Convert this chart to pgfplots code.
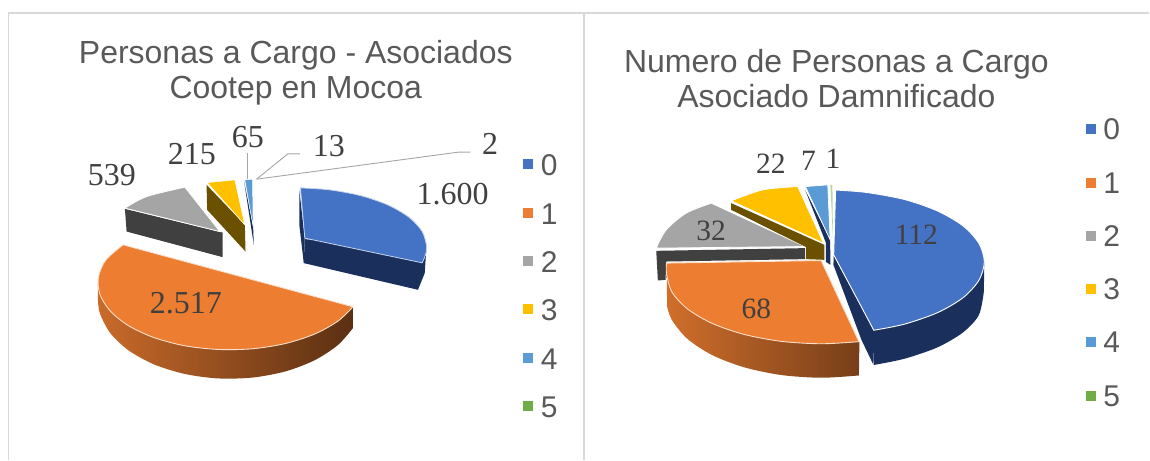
\documentclass[border=0pt]{standalone}
\usepackage{pgfplots}
\pgfplotsset{compat=1.18}
\usepackage{fontspec}
\setmainfont{Liberation Sans}
\newfontfamily\lab{Liberation Serif}
\definecolor{cBlue}{HTML}{4472C4}
\definecolor{cOrange}{HTML}{ED7D31}
\definecolor{cGray}{HTML}{A5A5A5}
\definecolor{cYellow}{HTML}{FFC000}
\definecolor{cSky}{HTML}{5B9BD5}
\definecolor{cGreen}{HTML}{70AD47}
\definecolor{sBlue}{HTML}{1A2F5B}
\definecolor{sGray}{HTML}{404040}
\definecolor{sYellow}{HTML}{6B5000}
\definecolor{tGray}{HTML}{595959}
\definecolor{dGray}{HTML}{404040}
\definecolor{bGray}{HTML}{D9D9D9}
\definecolor{lGray}{HTML}{A6A6A6}
\newcommand{\lbl}[3]{\node[anchor=base,text=dGray,font=\lab\fontsize{#3}{#3}\selectfont,inner sep=0pt] at (axis cs:#1) {#2};}
\newcommand{\leg}[2]{\node[anchor=base west,text=tGray,font=\fontsize{30}{30}\selectfont,inner sep=0pt] at (axis cs:#1) {#2};}
\begin{document}
\begin{tikzpicture}
\begin{axis}[width=1150pt,height=460pt,scale only axis,xmin=0,xmax=1150,ymin=0,ymax=460,y dir=reverse,hide axis,clip=false]
% page extent
\addplot[draw=none] coordinates {(0,0) (1150,460)};
% frame
\addplot[bGray,line width=1.6pt] coordinates {(8.5,460) (8.5,13) (1150,13)};
\addplot[bGray,line width=1.6pt] coordinates {(584.5,13) (584.5,460)};
% ---- left pie: wedges
% 2 gray
\addplot[fill=sGray,draw=none] coordinates {(125,209) (126.7,231.7) (222.7,257.3) (222.7,232.7)} -- cycle;
\addplot[smooth,fill=cGray,draw=white,line width=.8pt] coordinates {(125,208.3) (146.7,196.7) (185,187.3)} -- (axis cs:220,231.7) -- cycle;
% 3 yellow
\addplot[fill=sYellow,draw=none] coordinates {(206.7,185) (245,225) (245.7,251.7) (207.3,210)} -- cycle;
\addplot[fill=cYellow,draw=white,line width=.6pt] coordinates {(207.3,182.7) (235,180) (245,225)} -- cycle;
% 4 sky
\addplot[fill=sBlue,draw=none] coordinates {(244.3,181.7) (253.3,226.7) (254,245)} -- cycle;
\addplot[fill=cSky,draw=white,line width=.5pt] coordinates {(245,180) (252.7,179.3) (253.3,226.7)} -- cycle;
% 0 blue
\addplot[fill=sBlue,draw=none] coordinates {(299.5,190) (305,238) (304,263.3) (299.5,225)} -- cycle;
\addplot[fill=sBlue,draw=none] coordinates {(305,239.3) (304,263.3) (418.3,290) (425,273.3) (426.7,248)} -- cycle;
\addplot[smooth,fill=cBlue,draw=white!70!cBlue,line width=.8pt] coordinates {(300.6,188) (329.9,190) (361.5,195.9) (388.6,205.3) (409.4,217.5) (422.5,231.7) (427,247) (425.7,255.2) (422.5,263)} -- (axis cs:305,238.3) -- cycle;
% 1 orange
\addplot[smooth,left color=cOrange!85!black,middle color=cOrange!60!black,right color=cOrange!38!black,draw=none] coordinates {(353.2,328.3) (338.1,345.3) (314.8,360.5) (285.8,371.6) (252.9,377.8) (218.5,378.7) (184.9,374.2) (154.3,364.7) (128.9,350.8) (110.4,333.4) (100,313.7) (98,300)} -- (axis cs:98,283) -- (axis cs:353,307) -- cycle;
\addplot[smooth,fill=cOrange,draw=white!75!cOrange,line width=.9pt] coordinates {(353.2,307) (338.1,321.4) (314.8,334.3) (285.8,343.7) (252.9,349) (218.5,349.7) (184.9,346) (154.3,337.9) (128.9,326.1) (110.4,311.3) (100,294.6) (98.5,277.2) (106,260.1) (123.2,245)} -- cycle;
% leader lines
\addplot[lGray,line width=.9pt] coordinates {(248,153) (248,179)};
\addplot[lGray,line width=.9pt] coordinates {(256.7,179.3) (288,154) (300,154)};
\addplot[lGray,line width=.9pt] coordinates {(256.7,179.3) (458.3,152.3) (470.7,152.3)};
% labels
\lbl{112,185.5}{539}{32}
\lbl{192,164.5}{215}{32}
\lbl{248,148}{65}{32}
\lbl{329,157}{13}{32}
\lbl{490.5,155}{2}{32}
\lbl{453,205}{1.600}{32}
\lbl{186,314}{2.517}{32}
% titles
\node[anchor=base,text=tGray,font=\fontsize{32}{36}\selectfont,inner sep=0pt] at (axis cs:296,64) {Personas a Cargo - Asociados};
\node[anchor=base,text=tGray,font=\fontsize{32}{36}\selectfont,inner sep=0pt] at (axis cs:296,99) {Cootep en Mocoa};
\node[anchor=base,text=tGray,font=\fontsize{32}{36}\selectfont,inner sep=0pt] at (axis cs:837,73) {Numero de Personas a Cargo};
\node[anchor=base,text=tGray,font=\fontsize{32}{36}\selectfont,inner sep=0pt] at (axis cs:837,108) {Asociado Damnificado};
% left legend
\addplot[only marks,mark=square*,mark size=4.5pt,cBlue] coordinates {(528,164)};
\addplot[only marks,mark=square*,mark size=4.5pt,cOrange] coordinates {(528,212.7)};
\addplot[only marks,mark=square*,mark size=4.5pt,cGray] coordinates {(528,261)};
\addplot[only marks,mark=square*,mark size=4.5pt,cYellow] coordinates {(528,309.3)};
\addplot[only marks,mark=square*,mark size=4.5pt,cSky] coordinates {(528,357.7)};
\addplot[only marks,mark=square*,mark size=4.5pt,cGreen] coordinates {(528,406)};
\leg{541,176}{0}
\leg{541,224.4}{1}
\leg{541,272.8}{2}
\leg{541,321.2}{3}
\leg{541,369.6}{4}
\leg{541,418}{5}
% ---- right pie
% 2 gray
\addplot[fill=sGray,draw=none] coordinates {(656.7,251) (805.7,248.3) (805.7,259.3) (666.7,261.7) (666,280) (658.3,280.7)} -- cycle;
\addplot[smooth,fill=cGray,draw=white,line width=.8pt] coordinates {(656.7,248.3) (666.7,230) (686.7,213.3) (711.7,203.3)} -- (axis cs:805.7,246.7) -- cycle;
% 3 yellow
\addplot[fill=sYellow,draw=none] coordinates {(731.7,203.3) (731.7,210) (806.7,247.3) (806.7,259.3) (825,260) (825,245)} -- cycle;
\addplot[smooth,fill=cYellow,draw=white,line width=.8pt] coordinates {(731.7,201) (763.3,190) (798.3,186.7)} -- (axis cs:824,243.3) -- cycle;
% 4 sky
\addplot[fill=sBlue,draw=none] coordinates {(805.7,190) (830.7,240) (831,265) (826.5,262) (826.5,243)} -- cycle;
\addplot[fill=cSky,draw=white,line width=.7pt] coordinates {(806,186.7) (828.3,185) (830.7,240)} -- cycle;
% 5 green
\addplot[fill=cGreen!50!white,draw=none] coordinates {(831,185) (833,185) (833.5,238)} -- cycle;
% 0 blue
\addplot[fill=sBlue,draw=none] coordinates {(834.3,256) (875,331) (874,365) (862,340) (834,265)} -- cycle;
\addplot[smooth,fill=sBlue,draw=none] coordinates {(874.4,365.2) (905,359) (938.1,347.6) (963.6,332.7) (979.5,315.3) (984.5,292)} -- (axis cs:985,262) -- (axis cs:874.4,331) -- cycle;
\addplot[smooth,fill=cBlue,draw=white,line width=.9pt] coordinates {(836.2,190.2) (866.4,192.5) (905,199.6) (938.1,211.1) (963.6,226) (979.5,243.4) (985,262) (979.5,280.6) (963.6,298) (938.1,312.9) (905,324.4) (874.4,330.5)} -- (axis cs:834.3,255) -- cycle;
% 1 orange
\addplot[smooth,left color=cOrange!88!black,right color=cOrange!50!black,draw=none] coordinates {(859.5,375.7) (822,378) (781.9,375.3) (744.5,367.5) (712.4,355.2) (687.8,339) (672.3,320.2) (667.6,306.8)} -- (axis cs:667,263.3) -- (axis cs:860,342) -- cycle;
\addplot[smooth,fill=cOrange,draw=white!75!cOrange,line width=.9pt] coordinates {(859.5,341.9) (822,344) (781.9,341.6) (744.5,334.6) (712.4,323.5) (687.8,309) (672.3,292.1) (667,274) (667,263.3)} -- (axis cs:821.7,260.7) -- cycle;
% labels
\lbl{771.5,174}{22}{29.5}
\lbl{809,171}{7}{29.5}
\lbl{833.5,169}{1}{29.5}
\lbl{711.5,240.5}{32}{29.5}
\lbl{757,319}{68}{29.5}
\lbl{917,245}{112}{29.5}
% right legend
\addplot[only marks,mark=square*,mark size=4.5pt,cBlue] coordinates {(1091,129)};
\addplot[only marks,mark=square*,mark size=4.5pt,cOrange] coordinates {(1091,183)};
\addplot[only marks,mark=square*,mark size=4.5pt,cGray] coordinates {(1091,236)};
\addplot[only marks,mark=square*,mark size=4.5pt,cYellow] coordinates {(1091,289)};
\addplot[only marks,mark=square*,mark size=4.5pt,cSky] coordinates {(1091,342)};
\addplot[only marks,mark=square*,mark size=4.5pt,cGreen] coordinates {(1091,396)};
\leg{1104,140}{0}
\leg{1104,193.3}{1}
\leg{1104,246.5}{2}
\leg{1104,300}{3}
\leg{1104,353}{4}
\leg{1104,406.7}{5}
\end{axis}
\end{tikzpicture}
\end{document}
